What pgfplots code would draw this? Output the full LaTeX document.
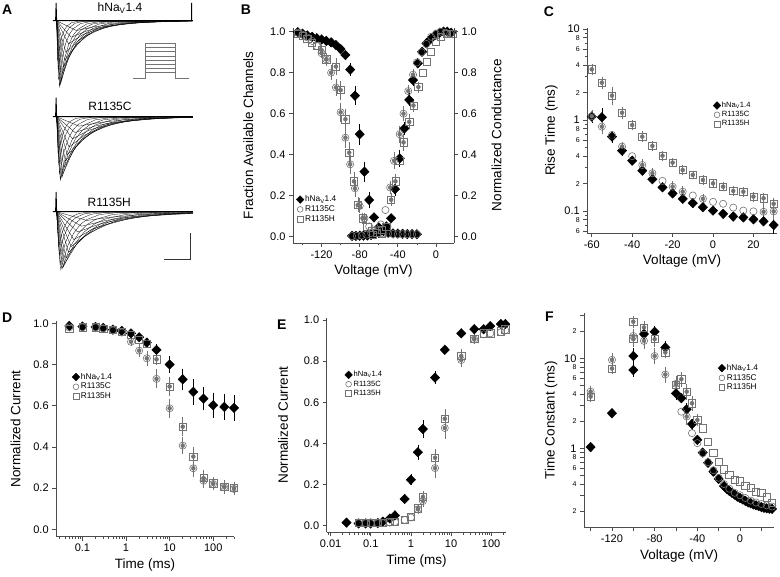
\documentclass[border=0pt]{standalone}
\usepackage{pgfplots}
\pgfplotsset{compat=1.18}
\usepackage{fontspec}
\setmainfont{Liberation Sans}
\definecolor{mg}{gray}{0.45}
\definecolor{ax}{gray}{0.3}
\newcommand{\tl}{\fontsize{7}{8}\selectfont}
\pgfplotsset{
  base/.style={scale only axis, clip=false,
    axis x line*=bottom, axis y line*=left, tick align=outside,
    axis line style={line width=0.6pt, ax},
    every tick/.style={line width=0.6pt, ax},
    major tick length=4pt, minor tick length=2.5pt,
    tick label style={font=\fontsize{11}{12}\selectfont},
    label style={font=\fontsize{13.5}{15}\selectfont},
    /pgf/number format/assume math mode=true,
    legend cell align=left,
    legend image code/.code={\draw[##1, every mark/.append style={scale=0.8}] plot coordinates {(3pt,0pt)};},
    legend style={draw=none, fill=none, inner sep=0pt,
      nodes={inner sep=1.2pt}, row sep=0pt}},
  fix1/.style={yticklabel style={/pgf/number format/.cd, fixed, fixed zerofill, precision=1}},
  dia/.style={only marks, black, mark=diamond*, mark size=4.8pt,
    mark options={xscale=1.3, fill=black, draw=black}},
  cir/.style={only marks, mg, mark=o, mark size=3.6pt, mark options={line width=0.6pt}},
  sqr/.style={only marks, mg, mark=square, mark size=3.6pt, mark options={line width=0.6pt}},
  ebk/.style={only marks, mark=none, black, forget plot,
    error bars/y dir=both, error bars/y explicit,
    error bars/error bar style={line width=0.5pt},
    error bars/error mark options={mark size=2.4pt, line width=0.5pt}},
  ebg/.style={ebk, mg},
  tr/.style={black, line width=0.3pt},
  trace/.style={base, hide axis, width=140pt, xmin=0, xmax=5.4, ymin=-1.02, ymax=0.3}
}
\begin{document}
\begin{tikzpicture}
\useasboundingbox (0pt,0pt) rectangle (780pt,577pt);

% ---------------- A: current traces ----------------
\begin{axis}[trace, at={(53pt,489pt)}, anchor=south west, height=87.1pt]
\addplot[black, line width=0.9pt] coordinates {(0,0)(0.1,0)(0.12,0.27)(0.14,0)(5.35,0)(5.35,0.27)};
\addplot[tr] coordinates {(0.14,0)(0.25,-1)(0.425,-0.607)(0.6,-0.368)(0.775,-0.223)(0.95,-0.135)(1.3,-0.05)(1.825,-0.011)(5.4,0)};
\addplot[tr] coordinates {(0.14,0)(0.22,-0.9)(0.36,-0.546)(0.5,-0.331)(0.64,-0.201)(0.78,-0.122)(1.06,-0.045)(1.48,-0.01)(5.4,0)};
\addplot[tr] coordinates {(0.14,0)(0.2,-0.75)(0.31,-0.455)(0.42,-0.276)(0.53,-0.167)(0.64,-0.101)(0.86,-0.038)(1.19,-0.008)(5.4,0)};
\addplot[tr] coordinates {(0.14,0)(0.18,-0.6)(0.27,-0.364)(0.36,-0.221)(0.45,-0.134)(0.54,-0.081)(0.72,-0.03)(0.99,-0.007)(5.4,0)};
\addplot[tr] coordinates {(0.14,0)(0.3,-0.95)(0.55,-0.577)(0.8,-0.35)(1.05,-0.212)(1.3,-0.128)(1.8,-0.048)(2.55,-0.01)(5.4,0)};
\addplot[tr] coordinates {(0.14,0)(0.35,-0.8)(0.7,-0.486)(1.05,-0.294)(1.4,-0.178)(1.75,-0.108)(2.45,-0.04)(3.5,-0.009)(5.4,0)};
\addplot[tr] coordinates {(0.14,0)(0.45,-0.6)(0.9,-0.364)(1.35,-0.221)(1.8,-0.134)(2.25,-0.081)(3.15,-0.03)(4.5,-0.007)(5.4,0)};
\addplot[tr] coordinates {(0.14,0)(0.6,-0.35)(1.15,-0.212)(1.7,-0.129)(2.25,-0.078)(2.8,-0.047)(3.9,-0.018)(5.4,-0.004)};
\addplot[tr] coordinates {(0.14,0)(0.9,-0.15)(1.6,-0.091)(2.3,-0.055)(3.0,-0.033)(3.7,-0.02)(5.1,-0.008)(5.4,-0.006)};
\addplot[tr] coordinates {(0.14,0)(0.27,-0.98)(0.48,-0.595)(0.69,-0.361)(0.9,-0.219)(1.11,-0.132)(1.53,-0.049)(2.16,-0.011)(5.4,0)};
\addplot[tr] coordinates {(0.14,0)(0.32,-0.9)(0.62,-0.546)(0.92,-0.331)(1.22,-0.201)(1.52,-0.122)(2.12,-0.045)(3.02,-0.01)(5.4,0)};
\addplot[tr] coordinates {(0.14,0)(0.4,-0.7)(0.8,-0.425)(1.2,-0.258)(1.6,-0.156)(2.0,-0.095)(2.8,-0.035)(4.0,-0.008)(5.4,0)};
\addplot[tr] coordinates {(0.14,0)(0.5,-0.48)(1.0,-0.291)(1.5,-0.177)(2.0,-0.107)(2.5,-0.065)(3.5,-0.024)(5.0,-0.005)(5.4,0)};
\addplot[tr] coordinates {(0.14,0)(0.7,-0.25)(1.325,-0.152)(1.95,-0.092)(2.575,-0.056)(3.2,-0.034)(4.45,-0.013)(5.4,-0.005)};
% voltage protocol
\addplot[mg, line width=0.6pt] coordinates {(3.097,-0.873)(3.575,-0.873)(3.575,-0.342)(4.705,-0.342)(4.705,-0.873)(5.245,-0.873)};
\addplot[mg, line width=0.5pt] coordinates {(3.575,-0.409)(4.705,-0.409)};
\addplot[mg, line width=0.5pt] coordinates {(3.575,-0.47)(4.705,-0.47)};
\addplot[mg, line width=0.5pt] coordinates {(3.575,-0.535)(4.705,-0.535)};
\addplot[mg, line width=0.5pt] coordinates {(3.575,-0.595)(4.705,-0.595)};
\addplot[mg, line width=0.5pt] coordinates {(3.575,-0.656)(4.705,-0.656)};
\addplot[mg, line width=0.5pt] coordinates {(3.575,-0.721)(4.705,-0.721)};
\addplot[mg, line width=0.5pt] coordinates {(3.575,-0.788)(4.705,-0.788)};
\end{axis}

\begin{axis}[trace, at={(53pt,395.7pt)}, anchor=south west, height=83.6pt]
\addplot[black, line width=0.9pt] coordinates {(0,0)(0.1,0)(0.12,0.3)(0.14,0)(5.4,0)};
\addplot[tr] coordinates {(0.14,0)(0.28,-1)(0.505,-0.607)(0.73,-0.368)(0.955,-0.223)(1.18,-0.135)(1.63,-0.05)(2.305,-0.011)(5.4,0)};
\addplot[tr] coordinates {(0.14,0)(0.25,-0.9)(0.43,-0.546)(0.61,-0.331)(0.79,-0.201)(0.97,-0.122)(1.33,-0.045)(1.87,-0.01)(5.4,0)};
\addplot[tr] coordinates {(0.14,0)(0.22,-0.75)(0.36,-0.455)(0.5,-0.276)(0.64,-0.167)(0.78,-0.101)(1.06,-0.038)(1.48,-0.008)(5.4,0)};
\addplot[tr] coordinates {(0.14,0)(0.2,-0.6)(0.31,-0.364)(0.42,-0.221)(0.53,-0.134)(0.64,-0.081)(0.86,-0.03)(1.19,-0.007)(5.4,0)};
\addplot[tr] coordinates {(0.14,0)(0.35,-0.95)(0.675,-0.577)(1.0,-0.35)(1.325,-0.212)(1.65,-0.128)(2.3,-0.048)(3.275,-0.01)(5.4,0)};
\addplot[tr] coordinates {(0.14,0)(0.42,-0.8)(0.87,-0.486)(1.32,-0.294)(1.77,-0.178)(2.22,-0.108)(3.12,-0.04)(4.47,-0.009)(5.4,0)};
\addplot[tr] coordinates {(0.14,0)(0.55,-0.6)(1.1,-0.364)(1.65,-0.221)(2.2,-0.134)(2.75,-0.081)(3.85,-0.03)(5.4,-0.006)};
\addplot[tr] coordinates {(0.14,0)(0.75,-0.35)(1.4,-0.212)(2.05,-0.129)(2.7,-0.078)(3.35,-0.047)(4.65,-0.018)(5.4,-0.01)};
\addplot[tr] coordinates {(0.14,0)(1.0,-0.15)(1.8,-0.091)(2.6,-0.055)(3.4,-0.033)(4.2,-0.02)(5.4,-0.011)};
\addplot[tr] coordinates {(0.14,0)(0.3,-0.98)(0.575,-0.595)(0.85,-0.361)(1.125,-0.219)(1.4,-0.132)(1.95,-0.049)(2.775,-0.011)(5.4,0)};
\addplot[tr] coordinates {(0.14,0)(0.38,-0.9)(0.77,-0.546)(1.16,-0.331)(1.55,-0.201)(1.94,-0.122)(2.72,-0.045)(3.89,-0.01)(5.4,0)};
\addplot[tr] coordinates {(0.14,0)(0.48,-0.7)(0.98,-0.425)(1.48,-0.258)(1.98,-0.156)(2.48,-0.095)(3.48,-0.035)(4.98,-0.008)(5.4,-0.005)};
\addplot[tr] coordinates {(0.14,0)(0.62,-0.48)(1.22,-0.291)(1.82,-0.177)(2.42,-0.107)(3.02,-0.065)(4.22,-0.024)(5.4,-0.009)};
\addplot[tr] coordinates {(0.14,0)(0.85,-0.25)(1.575,-0.152)(2.3,-0.092)(3.025,-0.056)(3.75,-0.034)(5.2,-0.013)(5.4,-0.012)};
\end{axis}

\begin{axis}[trace, at={(53pt,306.1pt)}, anchor=south west, height=76.6pt]
\addplot[black, line width=0.9pt] coordinates {(0,0)(0.1,0)(0.12,0.34)(0.14,0)(5.4,0)};
\addplot[tr] coordinates {(0.14,0)(0.3,-1)(0.55,-0.607)(0.8,-0.368)(1.05,-0.223)(1.3,-0.135)(1.8,-0.05)(2.55,-0.011)(5.4,0)};
\addplot[tr] coordinates {(0.14,0)(0.27,-0.9)(0.47,-0.546)(0.67,-0.331)(0.87,-0.201)(1.07,-0.122)(1.47,-0.045)(2.07,-0.01)(5.4,0)};
\addplot[tr] coordinates {(0.14,0)(0.24,-0.75)(0.4,-0.455)(0.56,-0.276)(0.72,-0.167)(0.88,-0.101)(1.2,-0.038)(1.68,-0.008)(5.4,0)};
\addplot[tr] coordinates {(0.14,0)(0.22,-0.6)(0.35,-0.364)(0.48,-0.221)(0.61,-0.134)(0.74,-0.081)(1.0,-0.03)(1.39,-0.007)(5.4,0)};
\addplot[tr] coordinates {(0.14,0)(0.4,-0.95)(0.8,-0.577)(1.2,-0.35)(1.6,-0.212)(2.0,-0.128)(2.8,-0.048)(4.0,-0.01)(5.4,0)};
\addplot[tr] coordinates {(0.14,0)(0.5,-0.8)(1.05,-0.486)(1.6,-0.294)(2.15,-0.178)(2.7,-0.108)(3.8,-0.04)(5.4,-0.008)};
\addplot[tr] coordinates {(0.14,0)(0.7,-0.6)(1.4,-0.364)(2.1,-0.221)(2.8,-0.134)(3.5,-0.081)(4.9,-0.03)(5.4,-0.022)};
\addplot[tr] coordinates {(0.14,0)(0.95,-0.35)(1.8,-0.212)(2.65,-0.129)(3.5,-0.078)(4.35,-0.047)(5.4,-0.025)};
\addplot[tr] coordinates {(0.14,0)(1.3,-0.15)(2.3,-0.091)(3.3,-0.055)(4.3,-0.033)(5.4,-0.019)};
\addplot[tr] coordinates {(0.14,0)(0.35,-0.98)(0.675,-0.595)(1.0,-0.361)(1.325,-0.219)(1.65,-0.132)(2.3,-0.049)(3.275,-0.011)(5.4,0)};
\addplot[tr] coordinates {(0.14,0)(0.45,-0.9)(0.925,-0.546)(1.4,-0.331)(1.875,-0.201)(2.35,-0.122)(3.3,-0.045)(4.725,-0.01)(5.4,-0.005)};
\addplot[tr] coordinates {(0.14,0)(0.6,-0.7)(1.225,-0.425)(1.85,-0.258)(2.475,-0.156)(3.1,-0.095)(4.35,-0.035)(5.4,-0.015)};
\addplot[tr] coordinates {(0.14,0)(0.8,-0.48)(1.575,-0.291)(2.35,-0.177)(3.125,-0.107)(3.9,-0.065)(5.4,-0.03)};
\addplot[tr] coordinates {(0.14,0)(1.1,-0.25)(2.025,-0.152)(2.95,-0.092)(3.875,-0.056)(4.8,-0.034)(5.4,-0.027)};
% scale bar
\addplot[black!80, line width=0.7pt] coordinates {(4.292,-0.821)(5.283,-0.821)(5.283,-0.367)};
\end{axis}

\node[font=\fontsize{12}{13}\selectfont] at (120pt,568.7pt) {hNa\textsubscript{V}1.4};
\node[font=\fontsize{12}{13}\selectfont] at (110pt,471pt) {R1135C};
\node[font=\fontsize{12}{13}\selectfont] at (109.3pt,374.3pt) {R1135H};

% ---------------- B ----------------
\begin{axis}[base, fix1, at={(293pt,334.15pt)}, anchor=south west, width=161pt, height=215.25pt,
  xmin=-150, xmax=19, ymin=-0.03, ymax=1.02,
  xtick={-120,-80,-40,0}, minor xtick={-140,-100,-60,-20},
  ytick={0,0.2,0.4,0.6,0.8,1},
  xlabel={Voltage (mV)}, ylabel={Fraction Available Channels}, ylabel shift=10pt,
  legend style={at={(0.02,0.225)}, anchor=north west, font=\fontsize{8.3}{10}\selectfont}]
\addplot[dia] coordinates {(-145,0.998)(-140,0.99)(-135,0.982)(-130,0.975)(-125,0.968)(-120,0.962)(-115,0.955)(-110,0.948)(-105,0.935)(-100,0.915)(-95,0.886)(-90,0.815)(-85,0.688)(-80,0.5)(-75,0.317)(-70,0.179)(-65,0.094)(-60,0.045)(-55,0.028)(-50,0.02)(-45,0.016)(-40,0.015)(-35,0.014)(-30,0.013)(-25,0.013)(-20,0.012)};
\addlegendentry{hNa\textsubscript{V}1.4}
\addplot[cir] coordinates {(-145,0.995)(-140,0.985)(-135,0.972)(-130,0.955)(-125,0.93)(-120,0.895)(-115,0.865)(-110,0.80)(-105,0.728)(-100,0.607)(-95,0.483)(-90,0.353)(-85,0.236)(-80,0.15)(-75,0.09)(-70,0.05)(-65,0.03)(-60,0.02)(-55,0.016)(-50,0.014)(-45,0.013)(-40,0.012)(-35,0.012)(-30,0.012)(-25,0.012)(-20,0.012)};
\addlegendentry{R1135C}
\addplot[sqr] coordinates {(-145,0.99)(-140,0.98)(-135,0.965)(-130,0.945)(-125,0.93)(-120,0.91)(-115,0.865)(-105,0.83)(-100,0.715)(-95,0.573)(-91,0.41)(-86,0.27)(-82,0.155)(-77,0.09)(-72,0.05)(-67,0.03)(-62,0.02)(-57,0.015)};
\addlegendentry{R1135H}
\addplot[ebk] coordinates {(-90,0.815)+-(0,0.02)(-85,0.688)+-(0,0.035)(-80,0.5)+-(0,0.04)(-75,0.317)+-(0,0.038)(-70,0.179)+-(0,0.025)(-65,0.094)+-(0,0.012)};
\addplot[ebg] coordinates {(-120,0.895)+-(0,0.012)(-115,0.865)+-(0,0.015)(-110,0.8)+-(0,0.025)(-105,0.728)+-(0,0.03)(-100,0.607)+-(0,0.035)(-95,0.483)+-(0,0.04)(-90,0.353)+-(0,0.035)(-85,0.236)+-(0,0.03)(-80,0.15)+-(0,0.025)(-75,0.09)+-(0,0.015)};
\addplot[ebg] coordinates {(-120,0.91)+-(0,0.015)(-115,0.865)+-(0,0.02)(-105,0.83)+-(0,0.03)(-100,0.715)+-(0,0.035)(-95,0.573)+-(0,0.04)(-91,0.41)+-(0,0.04)(-86,0.27)+-(0,0.035)(-82,0.155)+-(0,0.025)(-77,0.09)+-(0,0.015)};
% conductance
\addplot[dia, forget plot] coordinates {(-88,0.004)(-84,0.004)(-80,0.005)(-76,0.005)(-72,0.006)(-68,0.008)(-64,0.012)(-60,0.02)(-56,0.035)(-52,0.05)(-47,0.09)(-43,0.232)(-38,0.382)(-33,0.528)(-28,0.667)(-24,0.764)(-19,0.846)(-14.5,0.902)(-10,0.943)(-5,0.967)(0,0.985)(4,0.995)(8,1.0)(12,1.0)(16,0.995)};
\addplot[cir, forget plot] coordinates {(-88,0.003)(-83,0.004)(-78,0.006)(-73,0.01)(-68,0.018)(-63,0.032)(-58,0.06)(-53,0.13)(-48,0.24)(-44,0.37)(-38,0.5)(-34,0.6)(-29,0.71)(-24,0.79)(-20,0.85)(-15,0.9)(-10,0.94)(-5,0.975)(0,0.99)(5,1.0)(10,0.995)(15,0.99)};
\addplot[sqr, forget plot] coordinates {(-66,0.01)(-62,0.02)(-57,0.035)(-52,0.05)(-47,0.18)(-42.5,0.27)(-38.5,0.37)(-34,0.46)(-28,0.56)(-23.6,0.64)(-18.4,0.73)(-13.8,0.8)(-9.6,0.855)(-5,0.9)(0.3,0.95)(5.2,0.975)(11.5,0.99)(17.8,0.99)};
\addplot[ebk] coordinates {(-43,0.232)+-(0,0.02)(-38,0.382)+-(0,0.03)(-33,0.528)+-(0,0.02)(-28,0.667)+-(0,0.02)(-24,0.764)+-(0,0.015)};
\addplot[ebg] coordinates {(-48,0.24)+-(0,0.02)(-44,0.37)+-(0,0.03)(-38,0.5)+-(0,0.03)(-34,0.6)+-(0,0.025)(-29,0.71)+-(0,0.02)(-24,0.79)+-(0,0.015)};
\addplot[ebg] coordinates {(-47,0.18)+-(0,0.02)(-42.5,0.27)+-(0,0.025)(-34,0.46)+-(0,0.03)(-28,0.56)+-(0,0.025)(-23.6,0.64)+-(0,0.02)(-18.4,0.73)+-(0,0.015)};
\end{axis}
\begin{axis}[base, fix1, at={(293pt,334.15pt)}, anchor=south west, width=161pt, height=215.25pt,
  xmin=-150, xmax=19, ymin=-0.03, ymax=1.02,
  axis x line=none, axis y line*=right, ytick={0,0.2,0.4,0.6,0.8,1},
  ylabel={Normalized Conductance}, ylabel shift=8pt]
\addplot[draw=none] coordinates {(0,0)};
\end{axis}

% ---------------- C ----------------
\begin{axis}[base, at={(587.3pt,344pt)}, anchor=south west, width=189.4pt, height=205.2pt,
  ymode=log, xmin=-62.2, xmax=31.5, ymin=0.0573, ymax=10.3,
  xtick={-60,-40,-20,0,20},
  ytick={0.06,0.08,0.1,0.2,0.4,0.6,0.8,1,2,4,6,8,10},
  yticklabels={{\tl 6},{\tl 8},0.1,{\tl 2},{\tl 4},{\tl 6},{\tl 8},1,{\tl 2},{\tl 4},{\tl 6},{\tl 8},10},
  minor ytick={0.07,0.09,0.3,0.5,0.7,0.9,3,5,7,9},
  xlabel={Voltage (mV)}, ylabel={Rise Time (ms)},
  legend style={at={(0.664,0.645)}, anchor=north west, font=\fontsize{7.6}{9.5}\selectfont}]
\addplot[dia] coordinates {(-60,1.09)(-55,1.07)(-50,0.656)(-45,0.46)(-40,0.357)(-35,0.277)(-30,0.223)(-25,0.182)(-20,0.156)(-15,0.136)(-10,0.122)(-5,0.11)(0,0.101)(5,0.093)(10,0.087)(15,0.085)(20,0.081)(25,0.077)(30,0.07)};
\addlegendentry{hNa\textsubscript{V}1.4}
\addplot[cir] coordinates {(-60,1.1)(-55,0.845)(-50,0.684)(-45,0.51)(-40,0.4)(-35,0.32)(-30,0.26)(-25,0.214)(-20,0.185)(-15,0.163)(-10,0.148)(-5,0.136)(0,0.126)(5,0.12)(10,0.109)(15,0.101)(20,0.099)(25,0.098)(30,0.099)};
\addlegendentry{R1135C}
\addplot[sqr] coordinates {(-60,3.6)(-55,2.57)(-50,1.85)(-45,1.2)(-40,0.88)(-35,0.656)(-30,0.52)(-25,0.405)(-20,0.34)(-15,0.282)(-10,0.249)(-5,0.219)(0,0.201)(5,0.185)(10,0.166)(15,0.163)(20,0.144)(25,0.138)(30,0.12)};
\addlegendentry{R1135H}
\addplot[ebk] coordinates {(-60,1.09)+-(0,0.1)(-55,1.07)+-(0,0.22)(-50,0.656)+-(0,0.06)(-45,0.46)+-(0,0.03)(30,0.07)+-(0,0.01)};
\addplot[ebg] coordinates {(-60,1.1)+-(0,0.1)(-55,0.845)+-(0,0.1)(-45,0.51)+-(0,0.03)(-35,0.32)+-(0,0.03)(-30,0.26)+-(0,0.02)(-20,0.185)+-(0,0.015)(-15,0.163)+-(0,0.012)(-5,0.136)+-(0,0.01)(25,0.098)+-(0,0.02)(30,0.099)+-(0,0.025)};
\addplot[ebg] coordinates {(-60,3.6)+-(0,0.3)(-55,2.57)+-(0,0.25)(-50,1.85)+-(0,0.3)(-45,1.2)+-(0,0.12)(-40,0.88)+-(0,0.06)(-35,0.656)+-(0,0.05)(-30,0.52)+-(0,0.03)(-25,0.405)+-(0,0.025)(-20,0.34)+-(0,0.02)(-15,0.282)+-(0,0.02)(-10,0.249)+-(0,0.012)(-5,0.219)+-(0,0.012)(0,0.201)+-(0,0.01)(5,0.185)+-(0,0.01)(10,0.166)+-(0,0.01)(15,0.163)+-(0,0.01)(20,0.144)+-(0,0.01)(25,0.138)+-(0,0.01)(30,0.12)+-(0,0.012)};
\end{axis}

% ---------------- D ----------------
\begin{axis}[base, fix1, at={(56.2pt,40.3pt)}, anchor=south west, width=177.8pt, height=215.5pt,
  xmode=log, xmin=0.025, xmax=300, ymin=-0.036, ymax=1.01,
  xtick={0.1,1,10,100}, xticklabels={0.1,1,10,100},
  minor xtick={0.03,0.04,0.05,0.06,0.07,0.08,0.09,0.2,0.3,0.4,0.5,0.6,0.7,0.8,0.9,2,3,4,5,6,7,8,9,20,30,40,50,60,70,80,90,200,300},
  ytick={0,0.2,0.4,0.6,0.8,1},
  xlabel={Time (ms)}, ylabel={Normalized Current}, ylabel shift=6pt,
  legend style={at={(0.089,0.765)}, anchor=north west, font=\fontsize{8.3}{10}\selectfont}]
\addplot[dia] coordinates {(0.05,0.987)(0.1,0.984)(0.2,0.982)(0.3,0.977)(0.5,0.969)(0.8,0.963)(1.3,0.951)(2,0.932)(3,0.906)(5,0.871)(10,0.80)(20,0.728)(35,0.667)(60,0.634)(100,0.602)(180,0.594)(300,0.589)};
\addlegendentry{hNa\textsubscript{V}1.4}
\addplot[cir] coordinates {(0.05,0.98)(0.1,0.98)(0.2,0.98)(0.3,0.975)(0.5,0.965)(0.8,0.955)(1.3,0.91)(2,0.867)(3,0.83)(5,0.73)(10,0.587)(20,0.406)(35,0.296)(60,0.236)(100,0.22)(180,0.204)(300,0.196)};
\addlegendentry{R1135C}
\addplot[sqr] coordinates {(0.05,0.975)(0.1,0.98)(0.2,0.98)(0.3,0.975)(0.5,0.97)(0.8,0.96)(1.3,0.945)(2,0.92)(3,0.9)(5,0.825)(10,0.693)(20,0.498)(35,0.353)(60,0.248)(100,0.223)(180,0.207)(300,0.2)};
\addlegendentry{R1135H}
\addplot[ebk] coordinates {(3,0.906)+-(0,0.012)(5,0.871)+-(0,0.015)(10,0.80)+-(0,0.03)(20,0.728)+-(0,0.04)(35,0.667)+-(0,0.05)(60,0.634)+-(0,0.045)(100,0.602)+-(0,0.05)(180,0.594)+-(0,0.05)(300,0.589)+-(0,0.05)};
\addplot[ebg] coordinates {(1.3,0.91)+-(0,0.01)(2,0.867)+-(0,0.02)(3,0.83)+-(0,0.025)(5,0.73)+-(0,0.035)(10,0.587)+-(0,0.035)(20,0.406)+-(0,0.03)(35,0.296)+-(0,0.03)(60,0.236)+-(0,0.025)(100,0.22)+-(0,0.02)(180,0.204)+-(0,0.02)(300,0.196)+-(0,0.02)};
\addplot[ebg] coordinates {(5,0.825)+-(0,0.015)(10,0.693)+-(0,0.035)(20,0.498)+-(0,0.035)(35,0.353)+-(0,0.035)(60,0.248)+-(0,0.03)(100,0.223)+-(0,0.02)(180,0.207)+-(0,0.02)(300,0.2)+-(0,0.02)};
\end{axis}

% ---------------- E ----------------
\begin{axis}[base, fix1, at={(326.7pt,44.7pt)}, anchor=south west, width=179.7pt, height=214.4pt,
  xmode=log, xmin=0.008, xmax=240, ymin=-0.032, ymax=1.01,
  xtick={0.01,0.1,1,10,100}, xticklabels={0.01,0.1,1,10,100},
  minor xtick={0.009,0.02,0.03,0.04,0.05,0.06,0.07,0.08,0.09,0.2,0.3,0.4,0.5,0.6,0.7,0.8,0.9,2,3,4,5,6,7,8,9,20,30,40,50,60,70,80,90,200},
  ytick={0,0.2,0.4,0.6,0.8,1},
  xlabel={Time (ms)}, ylabel={Normalized Current}, ylabel shift=9pt,
  legend style={at={(0.10,0.757)}, anchor=north west, font=\fontsize{7.6}{9.5}\selectfont}]
\addplot[dia] coordinates {(0.025,0.015)(0.05,0.011)(0.075,0.011)(0.1,0.011)(0.15,0.013)(0.2,0.02)(0.3,0.035)(0.4,0.05)(0.7,0.13)(1,0.223)(1.5,0.357)(2,0.47)(4,0.72)(7,0.855)(18,0.935)(38,0.955)(65,0.955)(95,0.97)(175,0.98)(225,0.98)};
\addlegendentry{hNa\textsubscript{V}1.4}
\addplot[cir] coordinates {(0.05,0.012)(0.075,0.012)(0.1,0.012)(0.15,0.012)(0.2,0.012)(0.3,0.015)(0.4,0.018)(0.7,0.028)(1,0.04)(1.5,0.08)(2,0.12)(4,0.28)(7,0.475)(18,0.805)(38,0.905)(65,0.93)(95,0.935)(175,0.94)(225,0.95)};
\addlegendentry{R1135C}
\addplot[sqr] coordinates {(0.05,0.015)(0.075,0.015)(0.1,0.015)(0.15,0.015)(0.2,0.015)(0.3,0.018)(0.4,0.02)(0.7,0.03)(1,0.045)(1.5,0.085)(2,0.14)(4,0.33)(7,0.52)(18,0.825)(38,0.91)(65,0.935)(95,0.935)(175,0.945)(225,0.955)};
\addlegendentry{R1135H}
\addplot[ebk] coordinates {(1,0.223)+-(0,0.015)(1.5,0.357)+-(0,0.025)(2,0.47)+-(0,0.03)(4,0.72)+-(0,0.02)};
\addplot[ebg] coordinates {(1.5,0.08)+-(0,0.01)(2,0.12)+-(0,0.015)(4,0.28)+-(0,0.035)(7,0.475)+-(0,0.04)(18,0.805)+-(0,0.02)(38,0.905)+-(0,0.01)};
\addplot[ebg] coordinates {(1.5,0.085)+-(0,0.01)(2,0.14)+-(0,0.015)(4,0.33)+-(0,0.03)(7,0.52)+-(0,0.035)(18,0.825)+-(0,0.02)(38,0.91)+-(0,0.01)};
\end{axis}

% ---------------- F ----------------
\begin{axis}[base, at={(584pt,49.6pt)}, anchor=south west, width=190.3pt, height=214.1pt,
  ymode=log, xmin=-146.2, xmax=32.1, ymin=0.132, ymax=31.6,
  xtick={-120,-80,-40,0}, minor xtick={-140,-100,-60,-20,20}, minor tick length=4pt,
  ytick={0.2,0.4,0.6,0.8,1,2,4,6,8,10,20},
  yticklabels={{\tl 2},{\tl 4},{\tl 6},{\tl 8},1,{\tl 2},{\tl 4},{\tl 6},{\tl 8},10,{\tl 2}},
  minor ytick={0.3,0.5,0.7,0.9,3,5,7,9,30},
  xlabel={Voltage (mV)}, ylabel={Time Constant (ms)},
  legend style={at={(0.704,0.768)}, anchor=north west, font=\fontsize{8.3}{10}\selectfont}]
\addplot[dia] coordinates {(-140,1.03)(-120,2.45)(-100,7.4)(-100,10.6)(-90,18.6)(-80,19.7)(-70,13.2)(-60,4.08)(-55,3.6)(-50,2.71)(-45,1.86)(-40,1.24)(-35,0.895)(-30,0.69)(-25,0.55)(-20,0.456)(-15,0.38)(-12.5,0.355)(-10,0.335)(-7.5,0.32)(-5,0.305)(-2.5,0.29)(0,0.28)(2.5,0.27)(5,0.26)(7.5,0.25)(10,0.245)(12.5,0.237)(15,0.232)(17.5,0.228)(20,0.222)(22.5,0.218)(25,0.215)(27.5,0.213)(30,0.212)};
\addlegendentry{hNa\textsubscript{V}1.4}
\addplot[cir] coordinates {(-140,4.26)(-120,9.6)(-100,17.7)(-90,15.6)(-80,10.6)(-70,6.6)(-60,5.2)(-55,2.55)(-50,2.25)(-45,1.47)(-40,1.14)(-35,0.88)(-30,0.7)(-25,0.57)(-20,0.47)(-15,0.4)(-10,0.355)(-5,0.32)(0,0.3)(5,0.28)(10,0.262)(15,0.25)(20,0.24)(25,0.232)(30,0.225)};
\addlegendentry{R1135C}
\addplot[sqr] coordinates {(-140,3.75)(-120,7.7)(-100,25.5)(-100,16.3)(-90,22)(-80,16.3)(-70,11.6)(-60,5.1)(-55,5.85)(-50,4.26)(-45,3.16)(-40,2.06)(-35,1.67)(-30,1.19)(-25,0.895)(-20,0.71)(-15,0.585)(-10,0.505)(-5,0.45)(0,0.43)(5,0.385)(10,0.36)(15,0.33)(20,0.32)(25,0.285)(30,0.25)};
\addlegendentry{R1135H}
\addplot[ebk] coordinates {(-100,7.4)+-(0,0.8)(-100,10.6)+-(0,1.5)(-90,18.6)+-(0,2.5)(-80,19.7)+-(0,1.5)(-70,13.2)+-(0,1.5)(-60,4.08)+-(0,0.4)(-50,2.71)+-(0,0.3)(-45,1.86)+-(0,0.15)};
\addplot[ebg] coordinates {(-140,4.26)+-(0,0.4)(-120,9.6)+-(0,1.2)(-100,17.7)+-(0,2)(-90,15.6)+-(0,2)(-80,10.6)+-(0,1.5)(-70,6.6)+-(0,0.9)(-60,5.2)+-(0,0.6)(-50,2.25)+-(0,0.3)};
\addplot[ebg] coordinates {(-140,3.75)+-(0,0.3)(-120,7.7)+-(0,0.5)(-100,25.5)+-(0,2.5)(-100,16.3)+-(0,2)(-90,22)+-(0,2.5)(-80,16.3)+-(0,2)(-70,11.6)+-(0,1)(-60,5.1)+-(0,0.8)(-55,5.85)+-(0,0.8)(-50,4.26)+-(0,0.6)(-45,3.16)+-(0,0.4)(-40,2.06)+-(0,0.2)};
\end{axis}

% panel letters
\begin{scope}[every node/.style={font=\bfseries\fontsize{14}{15}\selectfont}]
\node at (7.3pt,567pt) {A};
\node at (246pt,567pt) {B};
\node at (549pt,565.3pt) {C};
\node at (7.3pt,259.7pt) {D};
\node at (281.7pt,252pt) {E};
\node at (549.3pt,260.3pt) {F};
\end{scope}
\end{tikzpicture}
\end{document}
